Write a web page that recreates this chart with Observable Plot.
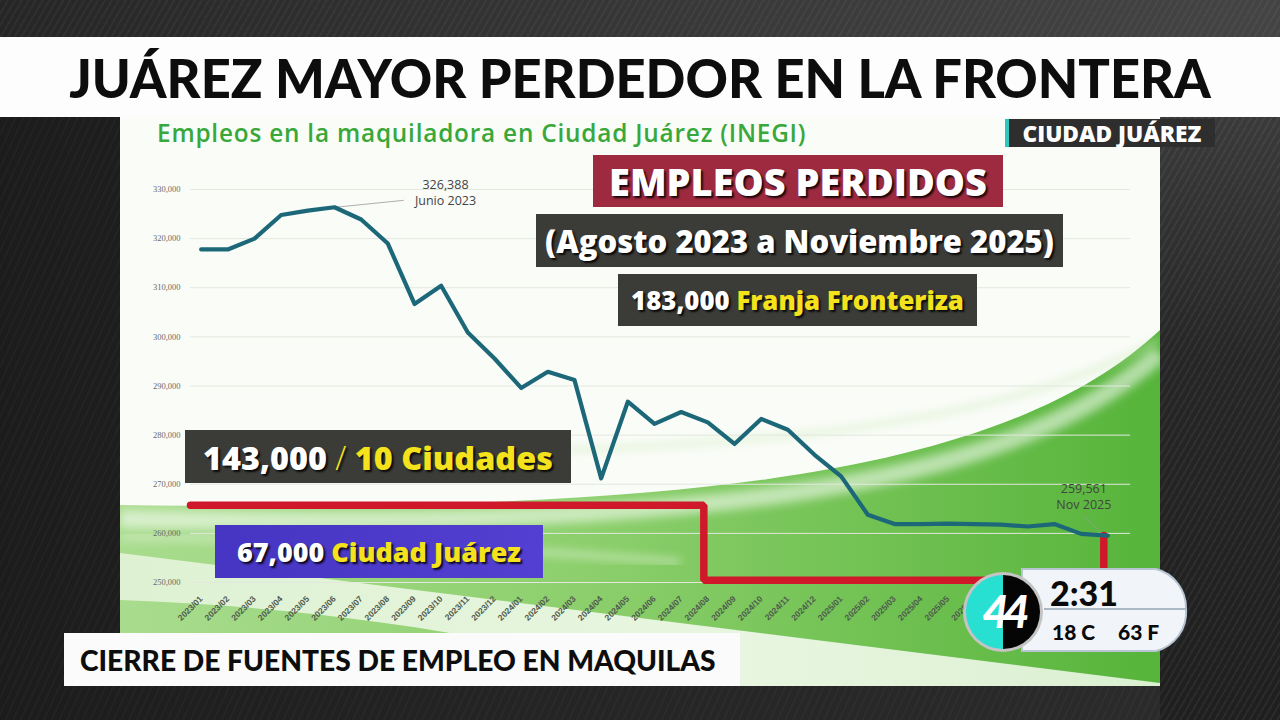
<!DOCTYPE html>
<html><head><meta charset="utf-8">
<script src="https://cdn.jsdelivr.net/npm/d3@7"></script>
<script src="https://cdn.jsdelivr.net/npm/@observablehq/plot@0.6"></script>
<style>
body{margin:0;width:1280px;height:720px;overflow:hidden;background:#1e1e1e;}
#stage{position:relative;width:1280px;height:720px;overflow:hidden;
 background:
  repeating-linear-gradient(115deg, rgba(255,255,255,0.025) 0 2px, rgba(0,0,0,0) 2px 7px),
  linear-gradient(90deg,#1c1c1c 0%,#242424 40%,#2c2c2c 100%);}
.abs{position:absolute;}
.t{display:inline-block;white-space:nowrap;}
.box{position:absolute;display:flex;align-items:center;justify-content:center;white-space:nowrap;
 font-family:"Open Sans",Lato,sans-serif;font-weight:800;color:#fff;text-shadow:2px 2px 2px rgba(0,0,0,0.85);}
.y{color:#f4e21c;}
#topband{left:0;top:0;width:1280px;height:37px;background:
  repeating-linear-gradient(120deg, rgba(255,255,255,0.04) 0 2px, rgba(0,0,0,0) 2px 6px),
  linear-gradient(90deg,#262626,#3a3a3a 60%,#444 100%);}
#rightside{left:1160px;top:117px;width:120px;height:603px;background:
  repeating-linear-gradient(120deg, rgba(255,255,255,0.05) 0 2px, rgba(0,0,0,0) 2px 6px),
  linear-gradient(180deg,#3a3a3a,#262626 40%,#1f1f1f);}
#title{left:0;top:37px;width:1280px;height:80px;background:#fdfdfd;display:flex;align-items:center;justify-content:center;
 font-family:Lato,sans-serif;font-weight:900;font-size:53px;color:#0d0d0d;}
#slide{left:120px;top:117px;width:1040px;height:569px;background:#fafcf8;overflow:hidden;}
#subtitle{left:157px;top:116px;font-family:"Open Sans",sans-serif;font-weight:600;font-size:22px;letter-spacing:0.8px;color:#38a83a;white-space:nowrap;}
#city{left:1005px;top:119px;width:210px;height:28px;background:#2e2e2e;border-left:4px solid #2fc6c2;box-sizing:border-box;
 display:flex;align-items:center;justify-content:center;font-family:"Open Sans",sans-serif;font-weight:800;font-size:19px;color:#fff;}
#lower{left:64px;top:633px;width:676px;height:53px;background:#fbfbfb;display:flex;align-items:center;padding-left:16px;box-sizing:border-box;
 font-family:Lato,sans-serif;font-weight:900;font-size:30px;color:#0d0d0d;white-space:nowrap;}
#plotwrap{left:120px;top:117px;width:1040px;height:569px;}
#plotwrap svg{overflow:visible;}
</style></head><body>
<div id="stage">
  <div id="topband" class="abs"></div>
  <div id="rightside" class="abs"></div>
  <div id="title" class="abs"><span class="t" data-fit="1142">JUÁREZ MAYOR PERDEDOR EN LA FRONTERA</span></div>
  <div id="slide" class="abs">
    <svg width="1040" height="569" viewBox="0 0 1040 569">
      <defs>
        <linearGradient id="gg" x1="0" y1="0" x2="1" y2="0">
          <stop offset="0" stop-color="#a9dc8e"/>
          <stop offset="0.45" stop-color="#8ccf6c"/>
          <stop offset="1" stop-color="#56b43a"/>
        </linearGradient>
        <linearGradient id="wedge" x1="0" y1="0" x2="1" y2="0">
          <stop offset="0" stop-color="#e4f4da"/>
          <stop offset="0.6" stop-color="#f4fbef"/>
          <stop offset="1" stop-color="#e9f6e1"/>
        </linearGradient>
        <filter id="blur"><feGaussianBlur stdDeviation="5"/></filter>
      </defs>
      <path d="M0,388 C550,396 880,362 1040,213 L1040,569 L0,569 Z" fill="url(#gg)"/>
      <path d="M0,402 C550,412 880,380 1040,236" fill="none" stroke="#ffffff" stroke-width="18" opacity="0.55" filter="url(#blur)"/>
      <path d="M360,335 C680,330 900,300 1040,222" fill="none" stroke="#cdeabb" stroke-width="4" opacity="0.8" filter="url(#blur)"/>
      <path d="M0,436 L1040,566 L1040,569 L560,569 C400,520 200,490 0,483 Z" fill="url(#wedge)" opacity="0.9"/>
      <path d="M0,420 C200,424 380,430 560,445" fill="none" stroke="#e8f6df" stroke-width="6" opacity="0.6" filter="url(#blur)"/>
    </svg>
  </div>
  <div id="plotwrap" class="abs"></div>
  <div id="subtitle" class="abs"><span class="t" data-fit="654">Empleos en la maquiladora en Ciudad Juárez (INEGI)</span></div>
  <div id="city" class="abs"><span class="t" data-fit="179">CIUDAD JUÁREZ</span></div>

  <div class="box" style="left:593px;top:155px;width:410px;height:52px;background:#9e2a3f;font-size:35px;"><span class="t" data-fit="378">EMPLEOS PERDIDOS</span></div>
  <div class="box" style="left:536px;top:214px;width:527px;height:53px;background:#3b3c38;font-size:31px;"><span class="t" data-fit="509">(Agosto 2023 a Noviembre 2025)</span></div>
  <div class="box" style="left:618px;top:274px;width:359px;height:52px;background:#3b3c38;font-size:24px;"><span class="t" data-fit="333">183,000 <span class="y">Franja Fronteriza</span></span></div>
  <div class="box" style="left:185px;top:430px;width:386px;height:53px;background:#3b3c38;font-size:31px;"><span class="t" data-fit="350">143,000 <span class="y" style="font-weight:300">/</span> <span class="y">10 Ciudades</span></span></div>
  <div class="box" style="left:215px;top:525px;width:328px;height:53px;background:linear-gradient(90deg,#4634c2,#5340d2);font-size:24px;"><span class="t" data-fit="284">67,000 <span class="y">Ciudad Juárez</span></span></div>

  <div id="lower" class="abs"><span class="t" data-fit="636">CIERRE DE FUENTES DE EMPLEO EN MAQUILAS</span></div>

  <svg class="abs" style="left:960px;top:562px" width="230" height="96" viewBox="0 0 230 96">
    <path d="M62,7 L196,7 A40,40 0 0 1 226,47 A40,40 0 0 1 196,89 L62,89 Z" fill="#f1f5f9" stroke="#b7c4d2" stroke-width="2"/>
    <line x1="84" y1="47" x2="226" y2="47" stroke="#aab8c6" stroke-width="2"/>
    <circle cx="43" cy="50" r="40" fill="#c4c4c4"/>
    <path d="M43,13 A37,37 0 0 0 43,87 Z" fill="#27e0d2"/>
    <path d="M43,13 A37,37 0 0 1 43,87 Z" fill="#050505"/>
    <text x="43" y="66" text-anchor="middle" font-family="Lato" font-weight="900" font-style="italic" font-size="46" fill="#ffffff" letter-spacing="-6">44</text>
    <text x="90" y="44" font-family="Lato" font-weight="900" font-size="34" fill="#0a0a0a">2:31</text>
    <text x="92" y="78" font-family="Lato" font-weight="900" font-size="21" fill="#0a0a0a">18 C</text>
    <text x="158" y="78" font-family="Lato" font-weight="900" font-size="21" fill="#0a0a0a">63 F</text>
  </svg>
</div>
<script>
// Meses (eje X)
const meses = ["2023/01","2023/02","2023/03","2023/04","2023/05","2023/06","2023/07","2023/08","2023/09","2023/10","2023/11","2023/12",
  "2024/01","2024/02","2024/03","2024/04","2024/05","2024/06","2024/07","2024/08","2024/09","2024/10","2024/11","2024/12",
  "2025/01","2025/02","2025/03","2025/04","2025/05","2025/06","2025/07","2025/08","2025/09","2025/10","2025/11"];
// Empleos en la maquiladora, Ciudad Juárez (INEGI)
const empleos = [317800,317800,320000,324800,325700,326388,323900,319000,306700,310400,300900,295600,
  289600,292900,291200,271200,286800,282300,284700,282600,278200,283300,281100,276000,
  271600,263800,261900,261900,262000,261900,261800,261400,261900,259900,259561];
// Marcas del eje Y
const yTicks = [250000,260000,270000,280000,290000,300000,310000,320000,330000];
// Línea roja escalonada (posición en meses, valor)
const rojoMes = [-0.4, 18.85, 18.85, 33.85, 33.85];
const rojoValor = [265700, 265700, 250450, 250450, 259561];
// Anotaciones
const notaMes = [5, 34];
const notaValor = [326388, 259561];
const notaTexto = ["326,388\nJunio 2023", "259,561\nNov 2025"];
const guiaDesdeMes = [5.05, 33.12];
const guiaDesdeValor = [326388, 263600];
const guiaHastaMes = [7.6, 33.78];
const guiaHastaValor = [327800, 259900];

const serie = meses.map((m, i) => ({i, mes: m, v: empleos[i]}));
const rojo = rojoMes.map((m, k) => ({i: m, v: rojoValor[k]}));
const notas = notaMes.map((m, k) => ({i: m, v: notaValor[k], t: notaTexto[k]}));
const guias = guiaDesdeMes.map((m, k) => ({x1: m, y1: guiaDesdeValor[k], x2: guiaHastaMes[k], y2: guiaHastaValor[k]}));

const chart = Plot.plot({
  width: 1040, height: 569,
  marginLeft: 70, marginRight: 30, marginTop: 72, marginBottom: 104,
  style: {background: "transparent", fontFamily: "Liberation Sans, sans-serif", overflow: "visible"},
  x: {type: "linear", domain: [-0.4, 34.85], axis: null},
  y: {domain: [250000, 330000], axis: null},
  marks: [
    Plot.gridY(yTicks, {stroke: "#e2e8de", strokeOpacity: 1, strokeWidth: 1}),
    Plot.axisY(yTicks, {tickSize: 0, tickPadding: 10, tickFormat: d3.format(","), fontSize: 8.5, fill: "#6a6a6a", fontFamily: "Liberation Serif, serif"}),
    Plot.axisX(d3.range(meses.length), {tickSize: 0, tickPadding: 15, tickRotate: -45, tickFormat: i => meses[i], fontSize: 8.5, fill: "#4f5a4f", fontWeight: "bold"}),
    Plot.link(guias, {x1: "x1", y1: "y1", x2: "x2", y2: "y2", stroke: "#9a9a9a", strokeWidth: 0.8}),
    Plot.line(rojo, {x: "i", y: "v", stroke: "#d0182b", strokeWidth: 7.5, strokeLinejoin: "miter", strokeLinecap: "round"}),
    Plot.line(serie, {x: "i", y: "v", stroke: "#1c6878", strokeWidth: 4.2, strokeLinejoin: "round"}),
    Plot.text(notas.slice(0,1), {x: "i", y: "v", text: "t", dx: 111, dy: -15, fontSize: 12.5, fill: "#444", lineHeight: 1.25, fontFamily: "Open Sans, sans-serif"}),
    Plot.text(notas.slice(1), {x: "i", y: "v", text: "t", dx: -24, dy: -40, fontSize: 12.5, fill: "#444", lineHeight: 1.3, fontFamily: "Open Sans, sans-serif"})
  ]
});
document.getElementById("plotwrap").appendChild(chart);

// Ajuste de ancho del texto a la referencia
document.querySelectorAll("[data-fit]").forEach(el => {
  const target = +el.dataset.fit;
  const w = el.getBoundingClientRect().width;
  if (el.dataset.mode === "ls") {
    const n = el.textContent.length;
    el.style.letterSpacing = ((target - w) / n) + "px";
  } else {
    const fs = parseFloat(getComputedStyle(el).fontSize);
    el.style.fontSize = (fs * target / w) + "px";
  }
});
</script>
</body></html>
